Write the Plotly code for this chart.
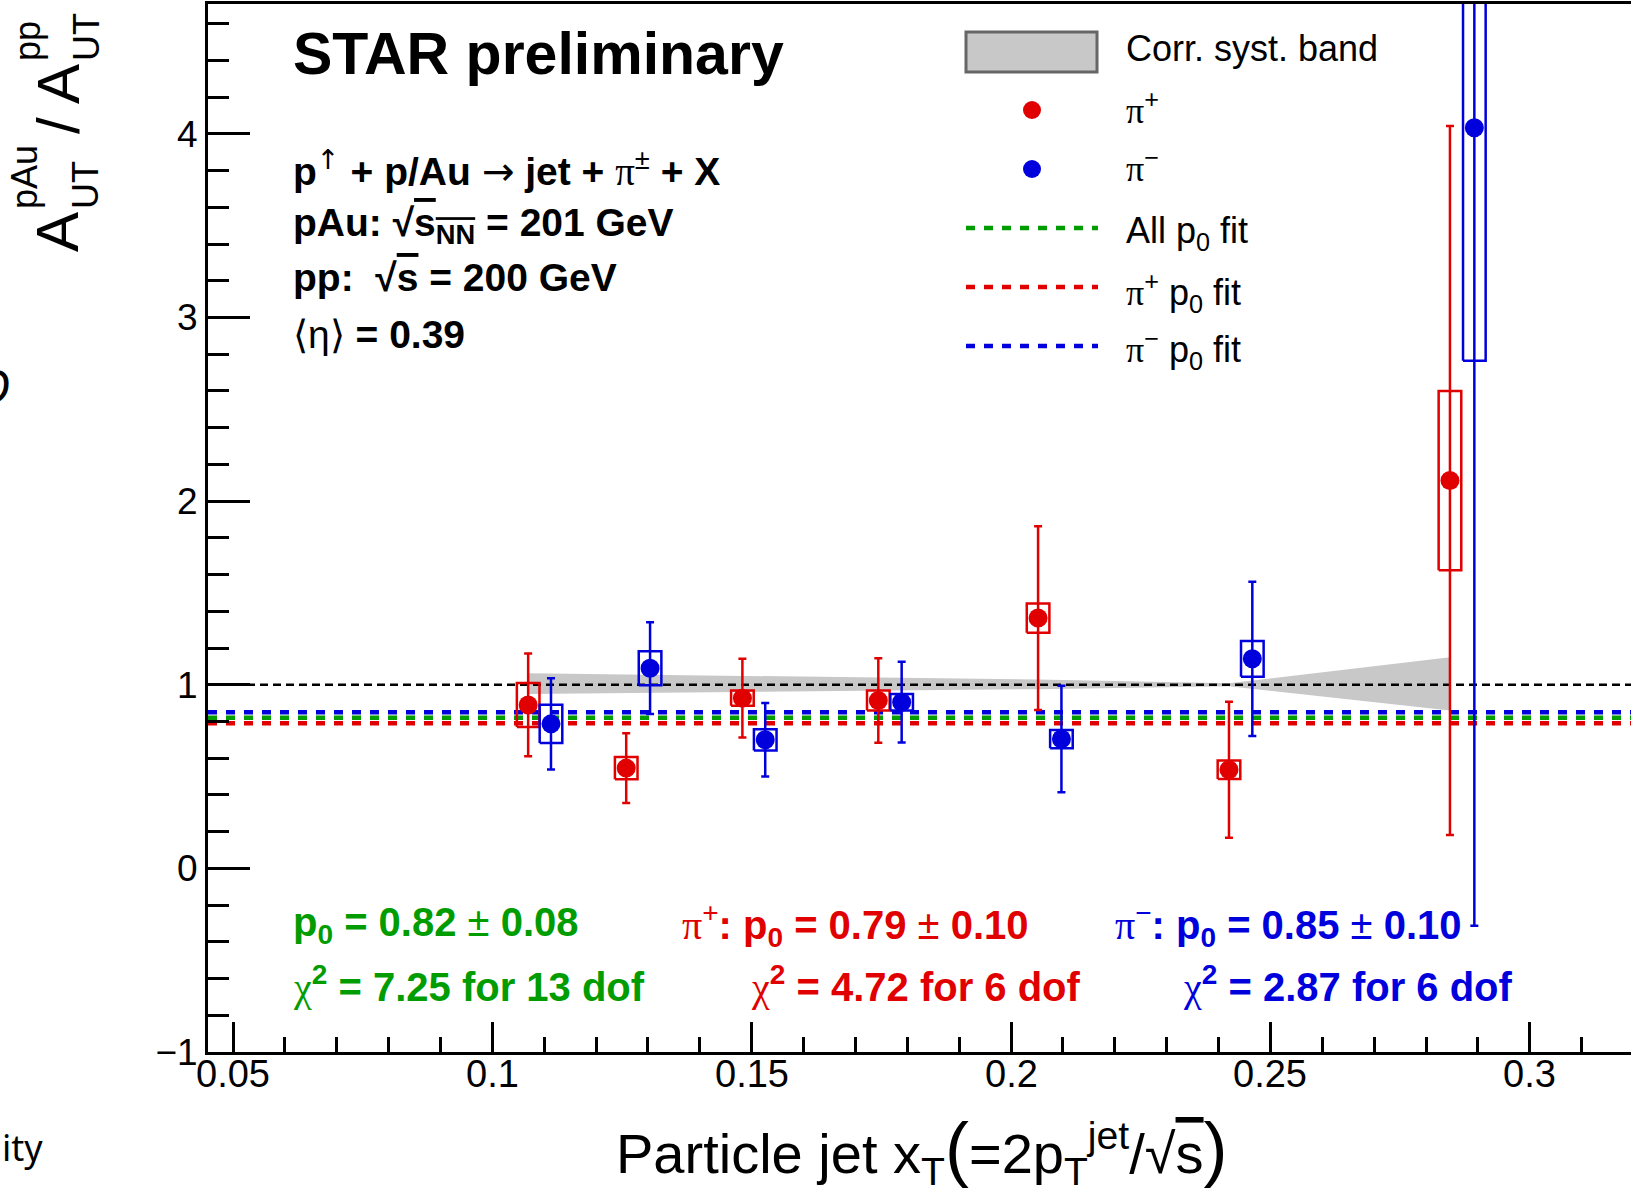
import plotly.graph_objects as go

# ---------------- data ----------------
pip_x = [0.1069, 0.1258, 0.1482, 0.1744, 0.2052, 0.2420, 0.2846]
pip_y = [0.890, 0.546, 0.927, 0.914, 1.363, 0.537, 2.112]
pip_stat = [0.28, 0.19, 0.215, 0.23, 0.50, 0.37, 1.93]
pip_syst = [0.120, 0.061, 0.041, 0.054, 0.080, 0.050, 0.488]

pim_x = [0.1113, 0.1304, 0.1526, 0.1789, 0.2097, 0.2465, 0.2893]
pim_y = [0.787, 1.090, 0.700, 0.905, 0.704, 1.141, 4.033]
pim_stat = [0.248, 0.250, 0.200, 0.220, 0.290, 0.420, 4.345]
pim_syst = [0.104, 0.093, 0.058, 0.045, 0.050, 0.097, 1.269]

band_x = [0.1069, 0.1258, 0.1482, 0.1744, 0.2052, 0.2420, 0.2846]
band_up = [0.063, 0.057, 0.049, 0.040, 0.028, 0.008, 0.150]
band_dn = [0.050, 0.046, 0.040, 0.033, 0.024, 0.008, 0.140]

fit_all = 0.82
fit_pip = 0.79
fit_pim = 0.85

x_tickvals = [0.05, 0.1, 0.15, 0.2, 0.25, 0.3]
x_ticktext = ["0.05", "0.1", "0.15", "0.2", "0.25", "0.3"]
y_tickvals = [-1, 0, 1, 2, 3, 4]
y_ticktext = ["\u22121", "0", "1", "2", "3", "4"]

X_RANGE = [0.04518, 0.3195]
Y_RANGE = [-1.0, 4.707]

# ---------------- style ----------------
RED = "#e00000"
BLUE = "#0000dd"
GREEN = "#009c00"
GREY = "#c8c8c8"
FONT = "Liberation Sans, Arial, Helvetica, sans-serif"
BOX_HW = 0.00218  # half-width of systematic boxes (x units)

W, H = 1631, 1199
L, T, R, B = 208, 4, 0, 147
PW, PH = W - L - R, H - T - B


def pxp(x):
    return (x - L) / PW


def pyp(y):
    return (H - B - y) / PH


fig = go.Figure()

# correlated systematic band
fig.add_trace(go.Scatter(
    x=band_x + band_x[::-1],
    y=[1 + u for u in band_up] + [1 - d for d in band_dn][::-1],
    fill="toself", fillcolor=GREY, line=dict(width=0, color=GREY),
    mode="lines", hoverinfo="skip", showlegend=False))

# reference line at 1
fig.add_trace(go.Scatter(x=X_RANGE, y=[1, 1], mode="lines",
                         line=dict(color="black", width=2.5, dash="8px,5px"),
                         showlegend=False))

# fit lines
for val, col in [(fit_pim, BLUE), (fit_all, GREEN), (fit_pip, RED)]:
    fig.add_trace(go.Scatter(x=X_RANGE, y=[val, val], mode="lines",
                             line=dict(color=col, width=4.5, dash="9px,9px"),
                             showlegend=False))


def boxes(xs, ys, ss):
    bx, by = [], []
    for x, y, s in zip(xs, ys, ss):
        bx += [x - BOX_HW, x + BOX_HW, x + BOX_HW, x - BOX_HW, x - BOX_HW, None]
        by += [y - s, y - s, y + s, y + s, y - s, None]
    return bx, by


for xs, ys, ss, col in [(pip_x, pip_y, pip_syst, RED), (pim_x, pim_y, pim_syst, BLUE)]:
    bx, by = boxes(xs, ys, ss)
    fig.add_trace(go.Scatter(x=bx, y=by, mode="lines",
                             line=dict(color=col, width=2.5), showlegend=False))

for xs, ys, es, col in [(pip_x, pip_y, pip_stat, RED), (pim_x, pim_y, pim_stat, BLUE)]:
    fig.add_trace(go.Scatter(
        x=xs, y=ys, mode="markers",
        marker=dict(color=col, size=19, symbol="circle"),
        error_y=dict(type="data", array=es, color=col, thickness=2.5, width=4),
        showlegend=False))

ann = []


def text(s, x, y, size, color="black", xanchor="left", yanchor="middle", angle=0, family=FONT):
    ann.append(dict(text=s, x=pxp(x), y=pyp(y), xref="paper", yref="paper",
                    xanchor=xanchor, yanchor=yanchor, showarrow=False, textangle=angle,
                    font=dict(size=size, color=color, family=family)))


SYM = "<span style='font-family:Liberation Serif'>"
ARR = "<span style='font-family:DejaVu Sans'>"

# header texts
text("<b>STAR preliminary</b>", 291, 54, 59)
text("<b>p</b><sup>" + ARR + "\u2191</span></sup><b> + p/Au </b>" + ARR + "\u2192</span><b> jet + </b>"
     + SYM + "\u03c0</span><sup>\u00b1</sup><b> + X</b>", 291, 169, 39)
text("<b>pAu: \u221a<span style='text-decoration:overline'>s<sub>NN</sub></span> = 201 GeV</b>", 291, 225, 39)
text("<b>pp:  \u221a<span style='text-decoration:overline'>s</span> = 200 GeV</b>", 291, 278, 39)
text("\u27e8\u03b7\u27e9<b> = 0.39</b>", 291, 334, 39)

# fit result texts
text("<b>p<sub>0</sub> = 0.82 </b>\u00b1<b> 0.08</b>", 291, 925, 40, GREEN)
text(SYM + "\u03c7</span><sup><b>2</b></sup><b> = 7.25 for 13 dof</b>", 291, 984, 40, GREEN)
text(SYM + "\u03c0</span><sup>+</sup><b>: p<sub>0</sub> = 0.79 </b>\u00b1<b> 0.10</b>", 680, 925, 40, RED)
text(SYM + "\u03c7</span><sup><b>2</b></sup><b> = 4.72 for 6 dof</b>", 749, 984, 40, RED)
text(SYM + "\u03c0</span><sup>\u2212</sup><b>: p<sub>0</sub> = 0.85 </b>\u00b1<b> 0.10</b>", 1113, 925, 40, BLUE)
text(SYM + "\u03c7</span><sup><b>2</b></sup><b> = 2.87 for 6 dof</b>", 1181, 984, 40, BLUE)

# legend texts
text("Corr. syst. band", 1124, 49, 36)
text(SYM + "\u03c0</span><sup>+</sup>", 1124, 108, 36)
text(SYM + "\u03c0</span><sup>\u2212</sup>", 1124, 166, 36)
text("All p<sub>0</sub> fit", 1124, 233, 36)
text(SYM + "\u03c0</span><sup>+</sup> p<sub>0</sub> fit", 1124, 292, 36)
text(SYM + "\u03c0</span><sup>\u2212</sup> p<sub>0</sub> fit", 1124, 350, 36)

# x axis title
text("Particle jet x<sub>T</sub><span style='font-size:72px'>(</span>=2p<sub>T</sub><sup>jet</sup>/\u221a<span style='text-decoration:overline'>s</span><span style='font-size:72px'>)</span>",
     922, 1150, 56, xanchor="center")

# y axis title (rotated, stacked sub/sup)
dy = 8
text("A", 58, 224 + dy, 60, xanchor="center", angle=-90)
text("UT", 86, 203 + dy, 36, xanchor="center", yanchor="bottom", angle=-90)
text("pAu", 25, 203 + dy, 36, xanchor="center", yanchor="bottom", angle=-90)
text("/", 58, 118 + dy, 60, xanchor="center", angle=-90)
text("A", 58, 76 + dy, 60, xanchor="center", angle=-90)
text("UT", 86, 55 + dy, 36, xanchor="center", yanchor="bottom", angle=-90)
text("pp", 27, 55 + dy, 36, xanchor="center", yanchor="bottom", angle=-90)

# x tick labels placed just below the axis
for v, t in zip(x_tickvals, x_ticktext):
    ann.append(dict(text=t, x=v, y=pyp(1074), xref="x", yref="paper",
                    xanchor="center", yanchor="middle", showarrow=False,
                    font=dict(size=38, color="black", family=FONT)))

# slide fragments at the left edge
text("ity", 0, 1147, 36, family="Noto Sans")
text("<i>D</i>", 12, 385, 48, xanchor="right", family="Noto Sans")

# legend symbols
shapes = [
    dict(type="rect", xref="paper", yref="paper", x0=pxp(966), x1=pxp(1097),
         y0=pyp(72), y1=pyp(32), fillcolor=GREY, line=dict(color="#666666", width=3)),
]
for yy, col in [(110, RED), (169, BLUE)]:
    shapes.append(dict(type="circle", xref="paper", yref="paper", xsizemode="pixel",
                       ysizemode="pixel", xanchor=pxp(1032), yanchor=pyp(yy),
                       x0=-9, x1=9, y0=-9, y1=9, fillcolor=col, line=dict(color=col, width=0)))
for yy, col in [(228, GREEN), (287, RED), (346, BLUE)]:
    shapes.append(dict(type="line", xref="paper", yref="paper", x0=pxp(966), x1=pxp(1098),
                       y0=pyp(yy), y1=pyp(yy), line=dict(color=col, width=4.5, dash="9px,9px")))

fig.update_layout(
    width=W, height=H,
    margin=dict(l=L, r=R, t=T, b=B, pad=0),
    paper_bgcolor="white", plot_bgcolor="white",
    font=dict(family=FONT, color="black"),
    annotations=ann, shapes=shapes, showlegend=False,
    xaxis=dict(range=X_RANGE, showgrid=False, zeroline=False,
               showline=True, linecolor="black", linewidth=3, mirror=True,
               ticks="inside", ticklen=30, tickwidth=2.5, tickcolor="black",
               tickmode="array", tickvals=x_tickvals, ticktext=x_ticktext,
               showticklabels=False,
               minor=dict(ticks="inside", ticklen=15, tickwidth=2.5, tickcolor="black",
                          tick0=0.05, dtick=0.01)),
    yaxis=dict(range=Y_RANGE, showgrid=False, zeroline=False,
               showline=True, linecolor="black", linewidth=3, mirror=False,
               ticks="inside", ticklen=42, tickwidth=2.5, tickcolor="black",
               tickmode="array", tickvals=y_tickvals, ticktext=y_ticktext,
               tickfont=dict(size=37, family=FONT),
               minor=dict(ticks="inside", ticklen=21, tickwidth=2.5, tickcolor="black",
                          tick0=0, dtick=0.2)),
)

fig.write_html("out.html")
